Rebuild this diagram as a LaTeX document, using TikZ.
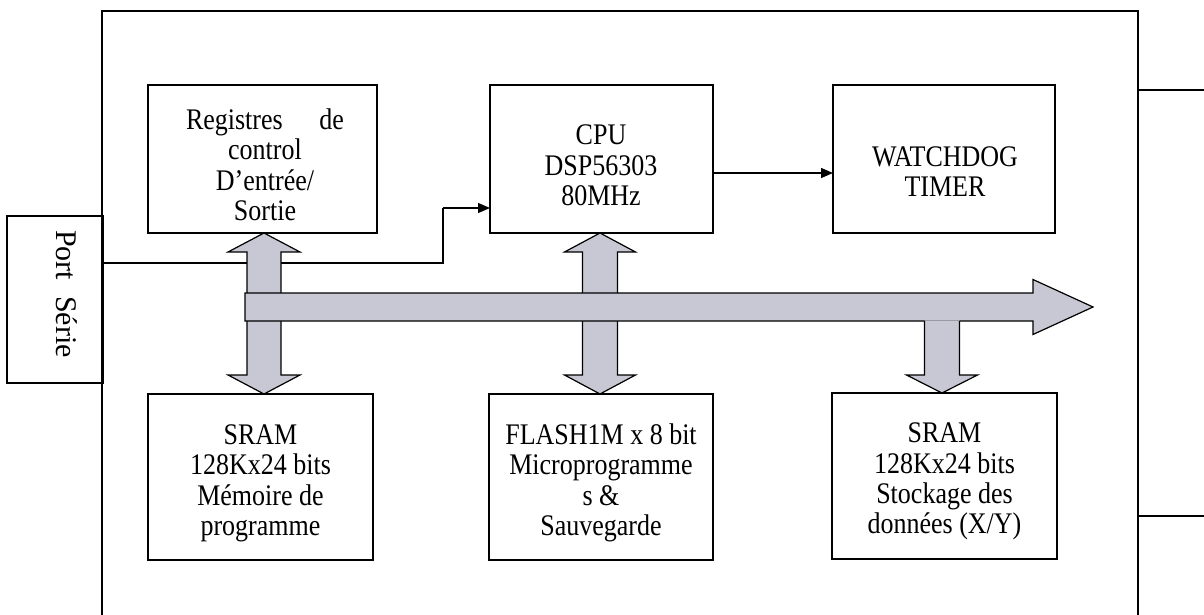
\documentclass[tikz,border=0pt]{standalone}
\usepackage{fontspec}
\usepackage{graphicx}
\setmainfont{Liberation Serif}
\usetikzlibrary{calc,arrows.meta}
\definecolor{busgrey}{RGB}{200,199,212}
\newcommand\blocktext[1]{\scalebox{1}[1.15]{\fontsize{26}{26.1}\selectfont\begin{tabular}{@{}c@{}}#1\end{tabular}}}
\tikzset{
  blk/.style={draw, line width=1.3pt, outer sep=0pt, inner sep=0pt},
  txt/.style={inner sep=0pt},
  wire/.style={line width=1.3pt},
  sig/.style={line width=1.3pt, -{Triangle[length=12pt,width=10pt]}},
  blockarrow/.style={fill=busgrey, draw, line width=1.2pt, line join=miter},
}
\begin{document}
\begin{tikzpicture}[x=1pt,y=-1pt]
\useasboundingbox (0,0) rectangle (1204,615);
\clip (0,0) rectangle (1204,615);
\fill[white] (0,0) rectangle (1204,615);

% outer frame
\coordinate (fTL) at (102,11);
\coordinate (fTR) at (1138,11);
\draw[wire] (102,630) -- (fTL) -- (fTR) -- (1138,630);
\coordinate (r1) at (1138,90);
\coordinate (r1e) at (1204,90);
\coordinate (r2) at (1138,516);
\coordinate (r2e) at (1204,516);
\draw[wire] (r1) -- (r1e);
\draw[wire] (r2) -- (r2e);

% blocks
\node[blk, minimum width=229pt, minimum height=148pt] (reg) at (262.5,159) {};
\node[blk, minimum width=223pt, minimum height=148pt] (cpu) at (601.5,159) {};
\node[blk, minimum width=222pt, minimum height=148pt] (wd) at (944,159) {};
\node[blk, minimum width=225pt, minimum height=166pt] (sram1) at (260.5,477) {};
\node[blk, minimum width=224pt, minimum height=166pt] (flash) at (601,477) {};
\node[blk, minimum width=225pt, minimum height=166pt] (sram2) at (944.5,476) {};
\node[blk, minimum width=96pt, minimum height=167pt] (port) at (55,299.5) {};

% texts
\node[txt] (treg) at (265,169) {\blocktext{\makebox[158pt]{Registres\hfill de}\\control\\D’entrée/\\Sortie}};
\node[txt] (tcpu) at (601,169) {\blocktext{CPU\\DSP56303\\80MHz}};
\node[txt] (twd) at (945,175.5) {\blocktext{WATCHDOG\\TIMER}};
\node[txt] (ts1) at (260.5,484) {\blocktext{SRAM\\128Kx24 bits\\Mémoire de\\programme}};
\node[txt] (tfl) at (601,484) {\blocktext{FLASH1M x 8 bit\\Microprogramme\\s \&\\Sauvegarde}};
\node[txt] (ts2) at (944.5,482) {\blocktext{SRAM\\128Kx24 bits\\Stockage des\\données (X/Y)}};
\node[inner sep=0pt, rotate=-90, font=\fontsize{30}{34}\selectfont] (tport) at (67,294) {Port\hspace{16pt}Série};

% signal wires
\coordinate (pin) at (port.east |- 0,263);
\coordinate (bend) at (443,208);
\draw[wire] (pin) -| (bend);
\draw[sig] (bend) -- (cpu.west |- bend);
\draw[sig] (cpu.east |- 0,173) -- (wd.west |- 0,173);

% vertical double arrows (drawn under the bus)
\coordinate (a1) at ($(reg.south)+(1.5,0)$);
\coordinate (b1) at (a1 |- sram1.north);
\draw[blockarrow] ($(a1)+(-17,19)$) -- ($(a1)+(-36,19)$) -- (a1) -- ($(a1)+(36,19)$) -- ($(a1)+(17,19)$)
  -- ($(b1)+(17,-19)$) -- ($(b1)+(36,-19)$) -- (b1) -- ($(b1)+(-36,-19)$) -- ($(b1)+(-17,-19)$) -- cycle;

\coordinate (a2) at ($(cpu.south)+(-1.5,0)$);
\coordinate (b2) at (a2 |- flash.north);
\draw[blockarrow] ($(a2)+(-17.5,19)$) -- ($(a2)+(-35.5,19)$) -- (a2) -- ($(a2)+(35.5,19)$) -- ($(a2)+(17.5,19)$)
  -- ($(b2)+(17.5,-19)$) -- ($(b2)+(35.5,-19)$) -- (b2) -- ($(b2)+(-35.5,-19)$) -- ($(b2)+(-17.5,-19)$) -- cycle;

% bus arrow
\coordinate (busL) at (245,307);
\coordinate (busT) at (1093,307);
\draw[blockarrow] ($(busL)+(0,-14)$) -- ($(busT)+(-60,-14)$) -- ($(busT)+(-60,-27.5)$) -- (busT)
  -- ($(busT)+(-60,27.5)$) -- ($(busT)+(-60,14)$) -- ($(busL)+(0,14)$) -- cycle;

% down arrow from bus to SRAM (X/Y)
\coordinate (b3) at ($(sram2.north)+(-2.5,0)$);
\coordinate (a3) at (b3 |- 0,321);
\fill[busgrey] ($(a3)+(-17.5,-0.6)$) -- ($(a3)+(17.5,-0.6)$) -- ($(b3)+(17.5,-18)$) -- ($(b3)+(35.5,-18)$) -- (b3)
  -- ($(b3)+(-35.5,-18)$) -- ($(b3)+(-17.5,-18)$) -- cycle;
\draw[line width=1.2pt, line join=miter] ($(a3)+(-17.5,0)$) -- ($(b3)+(-17.5,-18)$) -- ($(b3)+(-35.5,-18)$) -- (b3)
  -- ($(b3)+(35.5,-18)$) -- ($(b3)+(17.5,-18)$) -- ($(a3)+(17.5,0)$);
\end{tikzpicture}
\end{document}
